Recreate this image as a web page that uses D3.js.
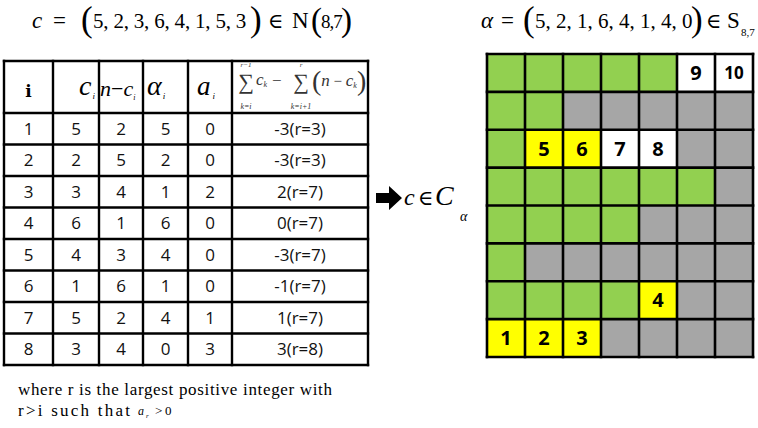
<!DOCTYPE html>
<html><head><meta charset="utf-8">
<script src="https://cdn.jsdelivr.net/npm/d3@7"></script>
<style>html,body{margin:0;padding:0;background:#fff;}svg{display:block;}</style>
</head><body>
<svg id="chart" width="758" height="428"></svg>
<script>
// ---------- data ----------
const iVals      = [1, 2, 3, 4, 5, 6, 7, 8];
const cVals      = [5, 2, 3, 6, 4, 1, 5, 3];
const nMinusC    = [2, 5, 4, 1, 3, 6, 2, 4];
const alphaVals  = [5, 2, 1, 6, 4, 1, 4, 0];
const aVals      = [0, 0, 2, 0, 0, 0, 1, 3];
const sumVals    = ["-3(r=3)", "-3(r=3)", "2(r=7)", "0(r=7)", "-3(r=7)", "-1(r=7)", "1(r=7)", "3(r=8)"];
const nParam = 8, kParam = 7;
// labelled cells of the diagram: row (top=0), column, label, kind
const labelRows  = [7, 7, 7, 6, 2, 2, 2, 2, 0, 0];
const labelCols  = [0, 1, 2, 4, 1, 2, 3, 4, 5, 6];
const labelTexts = ["1", "2", "3", "4", "5", "6", "7", "8", "9", "10"];
const labelKinds = ["y", "y", "y", "y", "y", "y", "w", "w", "w", "w"];

// ---------- styles ----------
const GREEN = "#92d050", GRAY = "#a6a6a6", YELLOW = "#ffff00", WHITE = "#ffffff";
const MATH = "'Liberation Serif', 'DejaVu Serif', serif";
const SANS = "'Open Sans', 'Noto Sans', sans-serif";

const svg = d3.select("#chart");

// helper: text with tspans (shift = baseline offset, +down)
function mtext(parent, x, y, segs, opts = {}) {
  const t = parent.append("text").attr("x", x).attr("y", y)
    .attr("font-family", opts.family || MATH)
    .attr("fill", opts.fill || "#000")
    .attr("text-anchor", opts.anchor || "start")
    .style("white-space", "pre");
  let prev = 0;
  segs.forEach(s => {
    const sh = s.shift || 0;
    const ts = t.append("tspan").text(s.t)
      .attr("font-size", s.fs)
      .attr("font-style", s.it ? "italic" : "normal")
      .attr("font-weight", s.b ? "bold" : "normal");
    if (s.x != null) ts.attr("x", s.x);
    if (sh !== prev) ts.attr("dy", sh - prev);
    if (s.dx) ts.attr("dx", s.dx);
    if (s.ls) ts.attr("letter-spacing", s.ls);
    prev = sh;
  });
  return t;
}

// ---------- titles ----------
mtext(svg, 32, 28, [
  {t: "c", fs: 23, it: true, x: 32},
  {t: "=", fs: 23, x: 53},
  {t: "(", fs: 35, shift: 3, x: 81},
  {t: cVals.join(", "), fs: 21, x: 93, ls: -0.2},
  {t: ")", fs: 35, shift: 3, x: 250},
  {t: "∈", fs: 21, x: 268},
  {t: "N", fs: 23, x: 292},
  {t: "(", fs: 33, shift: 3, x: 311},
  {t: nParam + "," + kParam, fs: 19, x: 321, ls: -1},
  {t: ")", fs: 33, shift: 3, x: 341}
]);

mtext(svg, 481, 28, [
  {t: "α", fs: 23, it: true, x: 481},
  {t: "=", fs: 23, x: 501},
  {t: "(", fs: 35, shift: 3, x: 523},
  {t: alphaVals.join(", "), fs: 21, x: 535},
  {t: ")", fs: 35, shift: 3, x: 691},
  {t: "∈", fs: 21, x: 706},
  {t: "S", fs: 23, x: 727},
  {t: nParam + "," + kParam, fs: 11, shift: 8, x: 741}
]);

// ---------- table ----------
const colEdges = [4, 53, 99, 143, 188, 232, 368];
const tableTop = 61, headBottom = 113, tableBottom = 365;
const rowY = d3.scaleBand().domain(d3.range(iVals.length)).range([headBottom, tableBottom]);
const colX = i => (colEdges[i] + colEdges[i + 1]) / 2;

const tbl = svg.append("g");
const columns = [iVals, cVals, nMinusC, alphaVals, aVals, sumVals];
columns.forEach((col, ci) => {
  tbl.selectAll(null).data(col).join("text")
    .attr("x", colX(ci))
    .attr("y", (d, i) => rowY(i) + rowY.bandwidth() / 2)
    .attr("dy", "0.36em")
    .attr("text-anchor", "middle")
    .attr("font-family", SANS)
    .attr("font-size", 17)
    .attr("fill", "#111")
    .text(d => d);
});

// header
mtext(tbl, colX(0), 97, [{t: "i", fs: 17, b: true}], {anchor: "middle", family: "'DejaVu Serif', serif"});
mtext(tbl, 79, 95, [{t: "c", fs: 28, it: true}, {t: "i", fs: 9, it: true, shift: 4, dx: 1}]);
mtext(tbl, 100, 96, [{t: "n", fs: 22, it: true}, {t: "−", fs: 22}, {t: "c", fs: 22, it: true}, {t: "i", fs: 8, it: true, shift: 4}]);
mtext(tbl, 147, 95, [{t: "α", fs: 28, it: true}, {t: "i", fs: 9, it: true, shift: 4, dx: 1}]);
mtext(tbl, 197, 95, [{t: "a", fs: 27, it: true}, {t: "i", fs: 9, it: true, shift: 4, dx: 2}]);

// sum formula header
const FC = "#333";
mtext(tbl, 246, 89, [{t: "∑", fs: 22}], {anchor: "middle", fill: FC});
mtext(tbl, 246, 67, [{t: "r−1", fs: 7, it: true}], {anchor: "middle", fill: FC});
mtext(tbl, 246, 109, [{t: "k=i", fs: 8, it: true}], {anchor: "middle", fill: FC});
mtext(tbl, 256, 85, [{t: "c", fs: 17, it: true}, {t: "k", fs: 8, it: true, shift: 2}], {fill: FC});
mtext(tbl, 272, 86, [{t: "−", fs: 17}], {fill: FC});
mtext(tbl, 301, 89, [{t: "∑", fs: 22}], {anchor: "middle", fill: FC});
mtext(tbl, 301, 67, [{t: "r", fs: 7, it: true}], {anchor: "middle", fill: FC});
mtext(tbl, 301, 109, [{t: "k=i+1", fs: 8, it: true}], {anchor: "middle", fill: FC});
mtext(tbl, 312, 90, [
  {t: "(", fs: 28}, {t: "n", fs: 17, it: true, shift: -4}, {t: " − ", fs: 15, shift: -4},
  {t: "c", fs: 17, it: true, shift: -4}, {t: "k", fs: 8, it: true, shift: -2}, {t: ")", fs: 28, shift: 0}
], {fill: FC});

// table lines
const lineW = 2.4;
const hLines = [tableTop, ...rowY.domain().map(i => rowY(i)), tableBottom];
tbl.selectAll(null).data(hLines).join("line")
  .attr("x1", colEdges[0]).attr("x2", colEdges[colEdges.length - 1])
  .attr("y1", d => d).attr("y2", d => d)
  .attr("stroke", "#000").attr("stroke-width", lineW).attr("stroke-linecap", "square");
tbl.selectAll(null).data(colEdges).join("line")
  .attr("x1", d => d).attr("x2", d => d)
  .attr("y1", tableTop).attr("y2", tableBottom)
  .attr("stroke", "#000").attr("stroke-width", lineW).attr("stroke-linecap", "square");

// ---------- arrow + c ∈ C_α ----------
svg.append("path")
  .attr("d", "M376,193 H389 V186 L402,198 L389,210 V203 H376 Z")
  .attr("fill", "#000");
mtext(svg, 404, 205, [
  {t: "c", fs: 24, it: true, x: 404},
  {t: "∈", fs: 21, x: 418},
  {t: "C", fs: 28, it: true, x: 435},
  {t: "α", fs: 14, it: true, shift: 16, x: 460}
]);

// ---------- grid diagram ----------
const nCols = kParam, nRows = nParam;
const gx = d3.scaleBand().domain(d3.range(nCols)).range([487, 753]);
const gy = d3.scaleBand().domain(d3.range(nRows)).range([54, 357]);
const cells = [];
alphaVals.forEach((a, r) => {
  for (let c = 0; c < nCols; c++) cells.push({r, c, fill: c < a ? GREEN : GRAY, label: ""});
});
labelTexts.forEach((lab, i) => {
  const cell = cells.find(d => d.r === labelRows[i] && d.c === labelCols[i]);
  cell.fill = labelKinds[i] === "y" ? YELLOW : WHITE;
  cell.label = lab;
});
const grid = svg.append("g");
grid.selectAll("rect").data(cells).join("rect")
  .attr("x", d => gx(d.c)).attr("y", d => gy(d.r))
  .attr("width", gx.bandwidth()).attr("height", gy.bandwidth())
  .attr("fill", d => d.fill);
grid.selectAll("text").data(cells.filter(d => d.label)).join("text")
  .attr("x", d => gx(d.c) + gx.bandwidth() / 2)
  .attr("y", d => gy(d.r) + gy.bandwidth() / 2)
  .attr("dy", "0.36em")
  .attr("text-anchor", "middle")
  .attr("font-family", SANS)
  .attr("font-weight", "bold")
  .attr("font-size", d => d.label.length > 1 ? 17 : 20)
  .attr("fill", "#000")
  .text(d => d.label);
const gW = 2.6;
grid.selectAll(null).data(d3.range(nRows + 1)).join("line")
  .attr("x1", 487).attr("x2", 753)
  .attr("y1", i => i < nRows ? gy(i) : 357).attr("y2", i => i < nRows ? gy(i) : 357)
  .attr("stroke", "#000").attr("stroke-width", gW).attr("stroke-linecap", "square");
grid.selectAll(null).data(d3.range(nCols + 1)).join("line")
  .attr("x1", i => i < nCols ? gx(i) : 753).attr("x2", i => i < nCols ? gx(i) : 753)
  .attr("y1", 54).attr("y2", 357)
  .attr("stroke", "#000").attr("stroke-width", gW).attr("stroke-linecap", "square");

// ---------- footnote ----------
svg.append("text").attr("x", 18).attr("y", 395)
  .attr("font-family", MATH).attr("font-size", 17)
  .attr("textLength", 314).attr("lengthAdjust", "spacing")
  .text("where r is the largest positive integer with");
svg.append("text").attr("x", 18).attr("y", 416)
  .attr("font-family", MATH).attr("font-size", 17)
  .attr("textLength", 112).attr("lengthAdjust", "spacing")
  .text("r>i such that");
mtext(svg, 138, 415, [
  {t: "a", fs: 12, it: true, x: 138},
  {t: "r", fs: 7, it: true, shift: 3, x: 146},
  {t: ">", fs: 13, shift: 0, x: 155},
  {t: "0", fs: 13, x: 165}
]);
</script>
</body></html>
